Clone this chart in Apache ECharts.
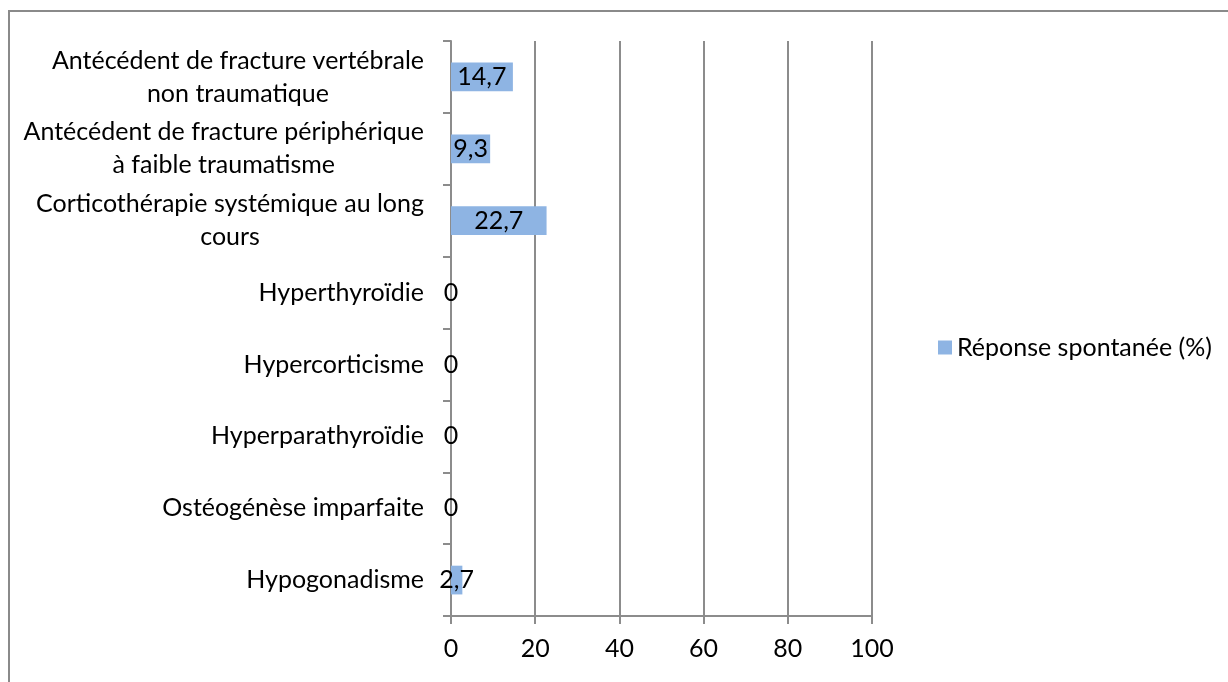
<!DOCTYPE html>
<html>
<head>
<meta charset="utf-8">
<script src="https://cdn.jsdelivr.net/npm/echarts@6/dist/echarts.min.js"></script>
<style>
html,body{margin:0;padding:0;background:#fff;}
#c{width:1228px;height:682px;}
</style>
</head>
<body>
<div id="c"></div>
<script>
// Categories listed bottom to top (as drawn on the category axis)
const categories = [
  "Hypogonadisme",
  "Ostéogénèse imparfaite",
  "Hyperparathyroïdie",
  "Hypercorticisme",
  "Hyperthyroïdie",
  "Corticothérapie systémique au long\ncours",
  "Antécédent de fracture périphérique\nà faible traumatisme",
  "Antécédent de fracture vertébrale\nnon traumatique"
];
const seriesName = "Réponse spontanée (%)";
const values = [2.7, 0, 0, 0, 0, 22.7, 9.3, 14.7];
const xTicks = [0, 20, 40, 60, 80, 100];

const FONT = 'Lato';
const FS = 25;
const GRID = '#8c8c8c';
const BAR = '#8EB4E3';

const chart = echarts.init(document.getElementById('c'), null, {renderer: 'canvas'});
chart.setOption({
  animation: false,
  backgroundColor: '#fff',
  textStyle: {fontFamily: FONT, color: '#000'},
  graphic: [{
    type: 'rect',
    shape: {x: 9, y: 11, width: 1400, height: 900},
    style: {fill: 'none', stroke: '#8a8a8a', lineWidth: 2},
    silent: true
  }],
  legend: {
    left: 933, top: 330,
    itemWidth: 14, itemHeight: 14,
    icon: 'rect',
    textStyle: {fontFamily: FONT, fontSize: FS, color: '#000'},
    data: [seriesName]
  },
  grid: {left: 451, right: 356, top: 41, bottom: 66, containLabel: false},
  xAxis: {
    type: 'value',
    min: xTicks[0], max: xTicks[xTicks.length - 1], interval: 20,
    axisLine: {show: true, lineStyle: {color: GRID, width: 2}},
    axisTick: {show: true, length: 8, lineStyle: {color: GRID, width: 2}},
    axisLabel: {fontFamily: FONT, fontSize: FS, color: '#000', margin: 20},
    splitLine: {show: true, lineStyle: {color: GRID, width: 2}}
  },
  yAxis: {
    type: 'category',
    data: categories,
    axisLine: {show: true, lineStyle: {color: GRID, width: 2}},
    axisTick: {show: true, length: 8, alignWithLabel: false, lineStyle: {color: GRID, width: 2}},
    axisLabel: {
      margin: 27,
      align: 'right',
      fontFamily: FONT, fontSize: FS, color: '#000',
      lineHeight: 33,
      formatter: v => '{c|' + v.split('\n').join('}\n{c|') + '}',
      rich: {c: {align: 'center', fontFamily: FONT, fontSize: FS, color: '#000', lineHeight: 33}}
    },
    splitLine: {show: false}
  },
  series: [{
    name: seriesName,
    type: 'bar',
    data: values,
    barCategoryGap: '60%',
    itemStyle: {color: BAR},
    label: {
      show: true,
      position: 'inside',
      fontFamily: FONT, fontSize: FS, color: '#000',
      formatter: p => String(p.value).replace('.', ',')
    }
  }]
});
</script>
</body>
</html>
